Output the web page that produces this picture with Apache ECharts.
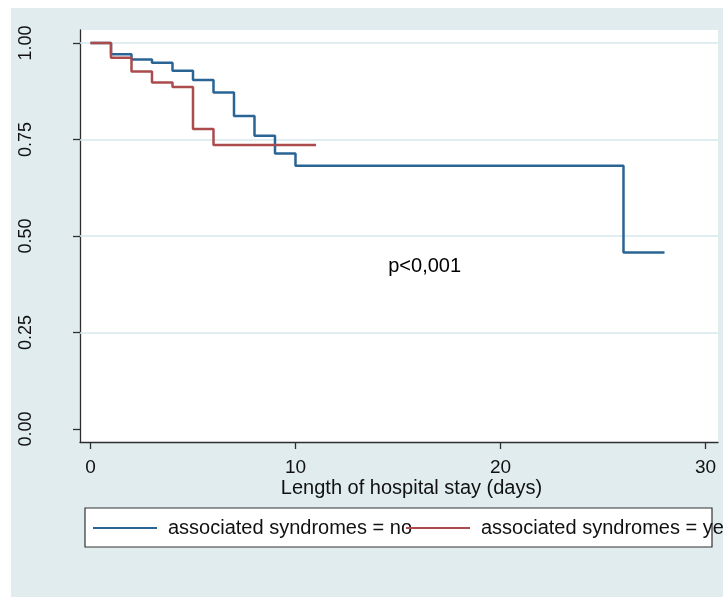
<!DOCTYPE html>
<html>
<head>
<meta charset="utf-8">
<script src="https://cdn.jsdelivr.net/npm/echarts@6/dist/echarts.min.js"></script>
<style>
html,body{margin:0;padding:0;background:#ffffff;}
#wrap{position:relative;width:723px;height:597px;background:#ffffff;overflow:hidden;}
#chart{position:absolute;left:11px;top:8px;width:712px;height:589px;background:#e0ecee;}
</style>
</head>
<body>
<div id="wrap"><div id="chart"></div></div>
<script>
// Data
var noDays   = [0, 1, 2, 3, 4, 5, 6, 7, 8, 9, 10, 26, 28];
var noSurv   = [1.00, 0.971, 0.957, 0.949, 0.928, 0.904, 0.872, 0.811, 0.760, 0.714, 0.682, 0.457, 0.457];
var yesDays  = [0, 1, 2, 3, 4, 5, 6, 11];
var yesSurv  = [1.00, 0.962, 0.926, 0.898, 0.886, 0.777, 0.736, 0.736];
var xTicks   = [0, 10, 20, 30];
var yTicks   = [0, 0.25, 0.5, 0.75, 1];
var yGrid    = [0.25, 0.5, 0.75, 1];
var seriesNames = ['associated syndromes = no', 'associated syndromes = yes'];
var annotX = [16.3];
var annotY = [0.422];
var annotText = ['p<0,001'];
var xTitle = 'Length of hospital stay (days)';

function pairs(xs, ys){ return xs.map(function(x,i){ return [x, ys[i]]; }); }

var FONT = '"Liberation Sans", Arial, sans-serif';
var chart = echarts.init(document.getElementById('chart'), null, {renderer:'canvas'});
var option = {
  animation: false,
  backgroundColor: '#e0ecee',
  textStyle: {fontFamily: FONT},
  grid: {left: 69, top: 22, width: 638, height: 412, show: true, backgroundColor: '#ffffff', borderWidth: 0},
  xAxis: {
    type: 'value', min: -0.512, max: 30.61,
    axisLine: {show: true, onZero: false, lineStyle: {color: '#2e2e2e', width: 1.3}},
    axisTick: {show: true, length: 7, customValues: xTicks, lineStyle: {color: '#2e2e2e', width: 1.3}},
    axisLabel: {customValues: xTicks, fontSize: 19, color: '#111', margin: 16, fontFamily: FONT},
    splitLine: {show: false}
  },
  yAxis: {
    type: 'value', min: -0.0337, max: 1.0337,
    axisLine: {show: true, onZero: false, lineStyle: {color: '#2e2e2e', width: 1.3}},
    axisTick: {show: true, length: 7, customValues: yTicks, lineStyle: {color: '#2e2e2e', width: 1.3}},
    axisLabel: {customValues: yTicks, rotate: 90, fontSize: 18, color: '#111', margin: 45, fontFamily: FONT,
      formatter: function(v){ return v.toFixed(2); }},
    splitLine: {show: false}
  },
  legend: [
    {data: [seriesNames[0]], left: 82, top: 508, padding: 0, icon: 'rect', itemWidth: 64, itemHeight: 2,
     textStyle: {fontSize: 20, color: '#111', lineHeight: 24, padding: [0,0,0,6], fontFamily: FONT}},
    {data: [seriesNames[1]], left: 395, top: 508, padding: 0, icon: 'rect', itemWidth: 64, itemHeight: 2,
     textStyle: {fontSize: 20, color: '#111', lineHeight: 24, padding: [0,0,0,6], fontFamily: FONT}}
  ],
  graphic: [
    {type: 'rect', z: 0, shape: {x: 74, y: 500, width: 627, height: 39},
     style: {fill: '#ffffff', stroke: '#333333', lineWidth: 1.2}},
    {type: 'text', z: 5, x: 400.5, y: 480,
     style: {text: xTitle, fontSize: 20, fill: '#111', textAlign: 'center', textVerticalAlign: 'middle', font: '20px ' + FONT}}
  ],
  series: [
    {type: 'line', name: 'grid', data: [], silent: true, z: 1,
     markLine: {silent: true, z: 1, symbol: ['none','none'], label: {show: false},
       lineStyle: {color: '#d6e7ed', width: 1.5, type: 'solid'},
       data: yGrid.map(function(v){ return {yAxis: v}; })}},
    {type: 'line', name: seriesNames[0], data: pairs(noDays, noSurv), step: 'end', showSymbol: false, z: 6,
     color: '#2a6494', lineStyle: {color: '#2a6494', width: 2.5}},
    {type: 'line', name: seriesNames[1], data: pairs(yesDays, yesSurv), step: 'end', showSymbol: false, z: 7,
     color: '#ab4b4d', lineStyle: {color: '#ab4b4d', width: 2.5}},
    {type: 'scatter', name: 'annot', data: pairs(annotX, annotY), symbolSize: 0, silent: true, z: 8,
     label: {show: true, position: 'inside', fontSize: 20, color: '#000', opacity: 1, fontFamily: FONT,
       formatter: function(p){ return annotText[p.dataIndex]; }}}
  ]
};
chart.setOption(option);
</script>
</body>
</html>
